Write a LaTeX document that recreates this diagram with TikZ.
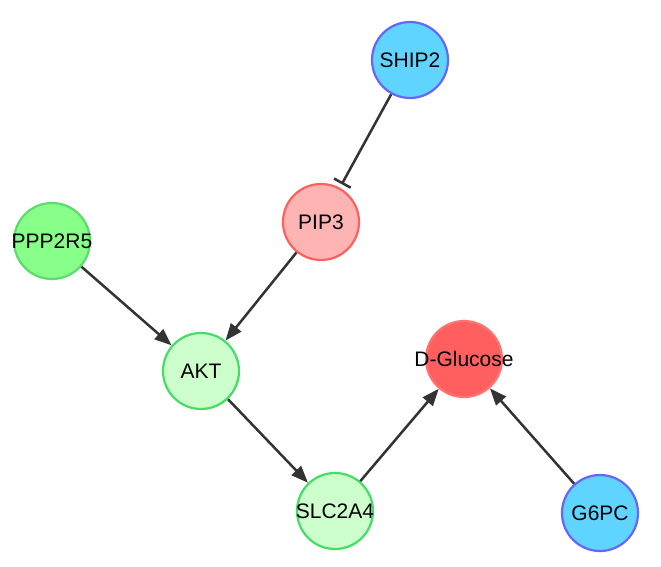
\documentclass[tikz,border=0pt]{standalone}
\usepackage{fontspec}
\setmainfont{Liberation Sans}
\usetikzlibrary{arrows.meta}
\definecolor{bluefill}{RGB}{95,212,255}
\definecolor{blueline}{RGB}{102,102,255}
\definecolor{pinkfill}{RGB}{255,180,180}
\definecolor{pinkline}{RGB}{255,95,95}
\definecolor{greenfill}{RGB}{136,255,136}
\definecolor{greenline}{RGB}{90,220,110}
\definecolor{palefill}{RGB}{204,255,204}
\definecolor{paleline}{RGB}{68,221,102}
\definecolor{redfill}{RGB}{255,95,95}
\definecolor{redline}{RGB}{255,115,115}
\definecolor{edgegray}{RGB}{51,51,51}
\newcommand{\glabel}[1]{\makebox[0pt]{#1}}
\begin{document}
\begin{tikzpicture}[x=1pt,y=-1pt,
    gene/.style={circle,minimum size=76pt,inner sep=0pt,line width=2.2pt,
      font=\fontsize{21}{24}\selectfont},
    regulator/.style={gene,fill=bluefill,draw=blueline},
    lipid/.style={gene,fill=pinkfill,draw=pinkline},
    partner/.style={gene,fill=greenfill,draw=greenline},
    target/.style={gene,fill=palefill,draw=paleline},
    sugar/.style={gene,fill=redfill,draw=redline},
    act/.style={draw=edgegray,line width=2.5pt,-{Triangle[length=17pt,width=13pt]}},
    inh/.style={draw=edgegray,line width=2.5pt,-{Bar[width=19pt]},shorten >=4pt}]
      \useasboundingbox (0,0) rectangle (661,567);
      \path
        (410,60) node[regulator] (SHIP2){\glabel{SHIP2}}
        (321,222) node[lipid] (PIP3){\glabel{PIP3}}
        (52,241) node[partner] (PPP2R5){\glabel{PPP2R5}}
        (201,371) node[target] (AKT){\glabel{AKT}}
        (464,359) node[sugar] (DGlucose){\glabel{D-Glucose}}
        (335,511) node[target] (SLC2A4){\glabel{SLC2A4}}
        (600,513) node[regulator] (G6PC){\glabel{G6PC}};
      \begin{scope}
        \draw[inh] (SHIP2) to (PIP3);
        \draw[act] (PIP3) to (AKT);
        \draw[act] (PPP2R5) to (AKT);
        \draw[act] (AKT) to (SLC2A4);
        \draw[act] (SLC2A4) to (DGlucose);
        \draw[act] (G6PC) to (DGlucose);
      \end{scope}
    \end{tikzpicture}
\end{document}
